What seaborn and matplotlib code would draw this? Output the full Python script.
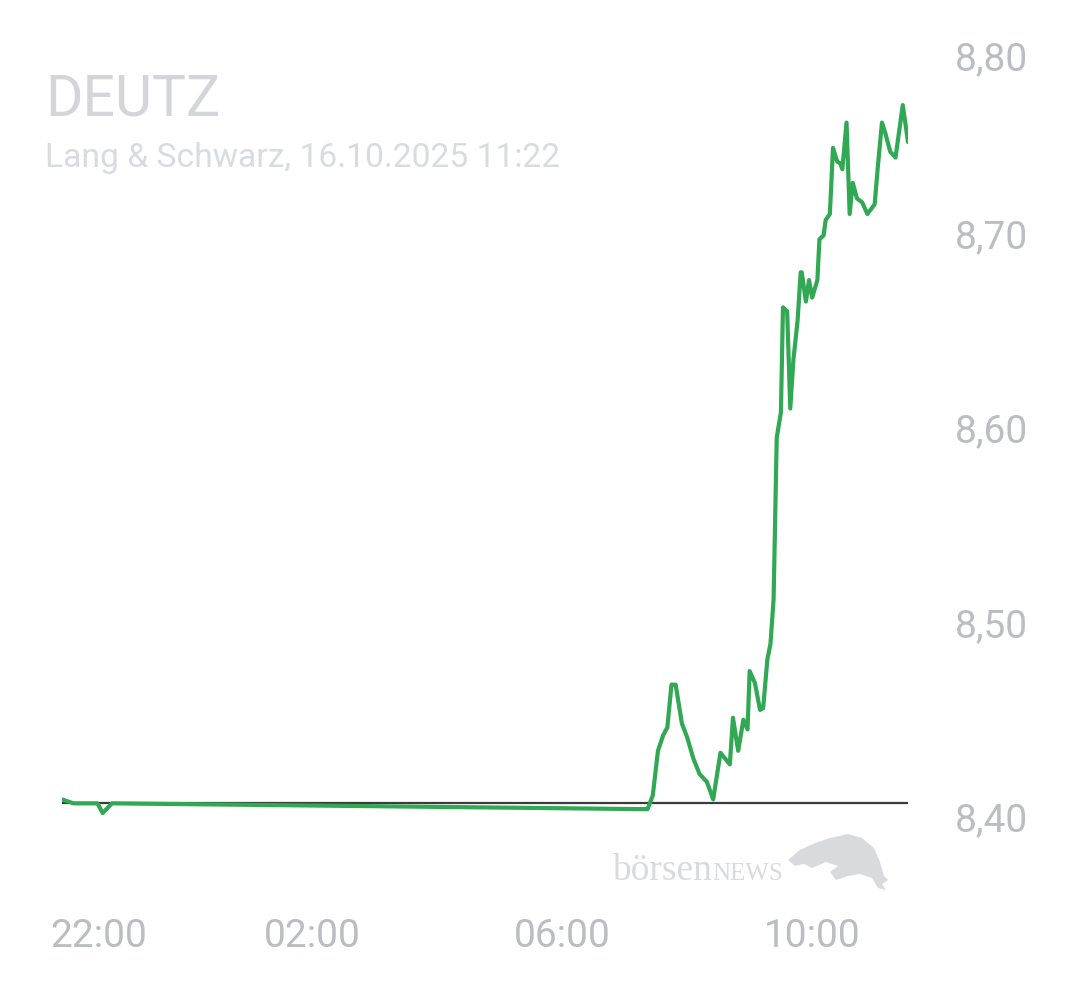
import matplotlib
matplotlib.use("Agg")
import matplotlib.pyplot as plt
import matplotlib.dates as mdates
import matplotlib.transforms as mtransforms
from matplotlib.patches import Polygon
import seaborn as sns
import pandas as pd

# price ticks (Lang & Schwarz, 15./16.10.2025)
times = [
    "2025-10-15 22:00", "2025-10-15 22:11", "2025-10-15 22:34", "2025-10-15 22:39",
    "2025-10-15 22:48", "2025-10-16 07:20", "2025-10-16 07:22", "2025-10-16 07:27",
    "2025-10-16 07:32", "2025-10-16 07:37", "2025-10-16 07:41", "2025-10-16 07:45",
    "2025-10-16 07:49", "2025-10-16 07:55", "2025-10-16 08:00", "2025-10-16 08:06",
    "2025-10-16 08:12", "2025-10-16 08:19", "2025-10-16 08:25", "2025-10-16 08:32",
    "2025-10-16 08:41", "2025-10-16 08:44", "2025-10-16 08:49", "2025-10-16 08:54",
    "2025-10-16 08:58", "2025-10-16 09:00", "2025-10-16 09:05", "2025-10-16 09:10",
    "2025-10-16 09:13", "2025-10-16 09:17", "2025-10-16 09:20", "2025-10-16 09:23",
    "2025-10-16 09:26", "2025-10-16 09:30", "2025-10-16 09:32", "2025-10-16 09:36",
    "2025-10-16 09:39", "2025-10-16 09:42", "2025-10-16 09:46", "2025-10-16 09:49",
    "2025-10-16 09:50", "2025-10-16 09:54", "2025-10-16 09:57", "2025-10-16 10:00",
    "2025-10-16 10:05", "2025-10-16 10:07", "2025-10-16 10:11", "2025-10-16 10:13",
    "2025-10-16 10:17", "2025-10-16 10:20", "2025-10-16 10:24", "2025-10-16 10:27",
    "2025-10-16 10:29", "2025-10-16 10:33", "2025-10-16 10:36", "2025-10-16 10:39",
    "2025-10-16 10:43", "2025-10-16 10:48", "2025-10-16 10:53", "2025-10-16 11:00",
    "2025-10-16 11:03", "2025-10-16 11:07", "2025-10-16 11:10", "2025-10-16 11:15",
    "2025-10-16 11:20", "2025-10-16 11:27", "2025-10-16 11:32",
]
prices = [
    8.409, 8.407, 8.407, 8.402,
    8.407, 8.404, 8.404, 8.411,
    8.434, 8.442, 8.446, 8.468,
    8.468, 8.448, 8.441, 8.430,
    8.422, 8.418, 8.409, 8.433,
    8.427, 8.451, 8.434, 8.450,
    8.445, 8.475, 8.469, 8.455,
    8.456, 8.481, 8.489, 8.512,
    8.595, 8.608, 8.662, 8.660,
    8.610, 8.635, 8.655, 8.680,
    8.680, 8.665, 8.676, 8.667,
    8.676, 8.697, 8.699, 8.707,
    8.710, 8.744, 8.737, 8.736,
    8.733, 8.757, 8.710, 8.726,
    8.718, 8.716, 8.710, 8.715,
    8.734, 8.757, 8.752, 8.742,
    8.739, 8.766, 8.747,
]
prev_close = 8.407
y_ticks = [8.40, 8.50, 8.60, 8.70, 8.80]
y_labels = ["8,40", "8,50", "8,60", "8,70", "8,80"]

df = pd.DataFrame({"time": pd.to_datetime(times), "price": prices})

sns.set_style("white")
plt.rcParams["font.family"] = ["Roboto", "DejaVu Sans"]

fig = plt.figure(figsize=(10.8, 9.9), dpi=100)
ax = fig.add_axes([62 / 1080, 90 / 990, 846 / 1080, 870 / 990])

ax.axhline(prev_close, color="#3c3c3c", lw=1.6, zorder=1)
sns.lineplot(data=df, x="time", y="price", color="#31a853", lw=3.0, ax=ax, zorder=2)

ax.set_xlim(df["time"].iloc[0], df["time"].iloc[-1])
ax.set_ylim(8.3573, 8.8046)
ax.set_xlabel("")
ax.set_ylabel("")
for s in ax.spines.values():
    s.set_visible(False)

ax.yaxis.tick_right()
ax.set_yticks(y_ticks)
ax.set_yticklabels(y_labels)
ax.tick_params(axis="y", length=0, pad=34, labelsize=28, labelcolor="#babdc2")

ax.xaxis.set_major_locator(mdates.HourLocator(byhour=[22, 2, 6, 10]))
ax.xaxis.set_major_formatter(mdates.DateFormatter("%H:%M"))
ax.tick_params(axis="x", length=0, pad=13, labelsize=28, labelcolor="#babdc2")

# edge labels are pushed inside like in the app
first = ax.get_xticklabels()[0]
first.set_horizontalalignment("left")
first.set_transform(first.get_transform() + mtransforms.ScaledTranslation(-12 / 100, 0, fig.dpi_scale_trans))
top = ax.get_yticklabels()[-1]
top.set_transform(top.get_transform() + mtransforms.ScaledTranslation(0, -17 / 100, fig.dpi_scale_trans))

fig.text(45 / 1080, 1 - 115 / 990, "DEUTZ", family=["Roboto", "DejaVu Sans"],
         fontsize=41, color="#d3d6d9", va="baseline")
fig.text(45 / 1080, 1 - 167 / 990, "Lang & Schwarz, 16.10.2025 11:22", family=["Roboto", "DejaVu Sans"],
         fontsize=24.2, color="#d9dcdf", va="baseline")

# watermark
fig.text(612 / 1080, 1 - 880 / 990, "börsen", family=["Liberation Serif"],
         fontsize=27, color="#d8dadd", va="baseline")
fig.text(712 / 1080, 1 - 880 / 990, "NEWS", family=["Liberation Serif"],
         fontsize=18, color="#d8dadd", va="baseline")
bull = [(788, 860), (800, 850), (815, 843), (830, 838), (848, 834), (862, 838),
        (874, 848), (880, 862), (884, 876), (888, 880), (882, 884), (886, 890),
        (878, 888), (872, 878), (860, 874), (848, 876), (836, 880), (830, 872),
        (838, 866), (826, 862), (812, 868), (804, 864), (795, 866)]
fig.patches.append(Polygon([(x / 1080, 1 - y / 990) for x, y in bull], closed=True,
                           transform=fig.transFigure, facecolor="#d8dadd", edgecolor="none"))

fig.savefig("out.png", dpi=100, facecolor="white")
